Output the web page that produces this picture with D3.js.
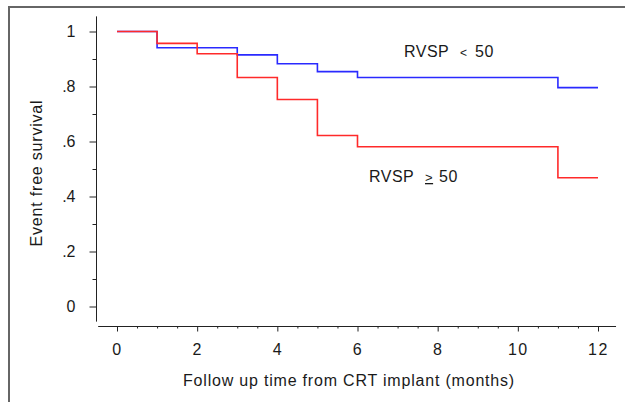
<!DOCTYPE html>
<html>
<head>
<meta charset="utf-8">
<script src="https://cdn.jsdelivr.net/npm/d3@7"></script>
<style>
	body { margin: 0; background: #fff; }
	text { font-family: "Liberation Sans", Arial, sans-serif; fill: #1a1a1a; }
</style>
</head>
<body>
<script>
// data
var lowTimes = [0, 1, 3, 4, 5, 6, 11, 12];
var lowSurvival = [1, 0.941, 0.915, 0.883, 0.854, 0.833, 0.796, 0.796];
var highTimes = [0, 1, 2, 3, 4, 5, 6, 11, 12];
var highSurvival = [1, 0.957, 0.919, 0.833, 0.753, 0.622, 0.581, 0.468, 0.468];

var xTicks = [0, 2, 4, 6, 8, 10, 12];
var yTicks = [0, 0.2, 0.4, 0.6, 0.8, 1];
var yTickLabels = ["0", ".2", ".4", ".6", ".8", "1"];

var width = 625, height = 402;

var svg = d3.select("body").append("svg")
	.attr("width", width)
	.attr("height", height);

// outer frame (left and top edges only show)
svg.append("path")
	.attr("d", "M9,402V7H625")
	.attr("fill", "none")
	.attr("stroke", "#666")
	.attr("stroke-width", 2);

var x = d3.scaleLinear().domain([0, 12]).range([117, 598]);
var y = d3.scaleLinear().domain([0, 1]).range([306.5, 31.5]);

// axis lines run a little past the data range
var xExtent = [-0.47, 12.45];
var yExtent = [-0.055, 1.055];

// x axis
var xAxisY = 326.5;
var gx = svg.append("g").attr("transform", "translate(0," + xAxisY + ")");
gx.call(d3.axisBottom(x).tickValues(d3.range(0, 12.01, 0.5)).tickSize(2).tickFormat(""));
gx.select(".domain").remove();
gx.selectAll(".tick line").attr("stroke", "#222");
gx.selectAll(".tick").filter(function(d) { return xTicks.indexOf(d) >= 0; })
	.select("line").attr("y2", 5);
gx.selectAll(".tick").filter(function(d) { return xTicks.indexOf(d) >= 0; })
	.select("text")
	.text(function(d) { return d; })
	.attr("y", 17)
	.attr("dy", "0.71em")
	.style("font-size", "16px")
	.style("letter-spacing", "1.5px")
	.style("font-family", "Liberation Sans, Arial, sans-serif")
	.attr("fill", "#1a1a1a");
gx.append("line")
	.attr("x1", x(xExtent[0])).attr("x2", x(xExtent[1]))
	.attr("stroke", "#222");

// y axis
var yAxisX = 96.5;
var gy = svg.append("g").attr("transform", "translate(" + yAxisX + ",0)");
gy.call(d3.axisLeft(y).tickValues(d3.range(0, 1.001, 0.1)).tickSize(4).tickFormat(""));
gy.select(".domain").remove();
gy.selectAll(".tick line").attr("stroke", "#222");
gy.selectAll(".tick").filter(function(d, i) { return i % 2 === 0; })
	.select("line").attr("x2", -7);
gy.selectAll(".tick").filter(function(d, i) { return i % 2 === 0; })
	.select("text")
	.text(function(d) { return yTickLabels[yTicks.indexOf(Math.round(d * 5) / 5)]; })
	.attr("x", -21)
	.style("font-size", "16px")
	.style("font-family", "Liberation Sans, Arial, sans-serif")
	.attr("fill", "#1a1a1a");
gy.append("line")
	.attr("y1", y(yExtent[0])).attr("y2", y(yExtent[1]))
	.attr("stroke", "#222");

// survival curves
var line = d3.line()
	.x(function(d) { return x(d[0]); })
	.y(function(d) { return y(d[1]); })
	.curve(d3.curveStepAfter);

svg.append("path")
	.datum(d3.zip(lowTimes, lowSurvival))
	.attr("d", line)
	.attr("fill", "none")
	.attr("stroke", "#2a2aff")
	.attr("stroke-width", 1.6);

svg.append("path")
	.datum(d3.zip(highTimes, highSurvival))
	.attr("d", line)
	.attr("fill", "none")
	.attr("stroke", "#ff2a2a")
	.attr("stroke-width", 1.6);

// group labels
var low = svg.append("text")
	.attr("x", 404).attr("y", 57)
	.style("font-size", "16px")
	.style("letter-spacing", "0.5px");
low.append("tspan").text("RVSP");
low.append("tspan").attr("x", 460).text("<").style("font-size", "12px");
low.append("tspan").attr("x", 475).text("50");

var high = svg.append("text")
	.attr("x", 369).attr("y", 182)
	.style("font-size", "16px")
	.style("letter-spacing", "0.5px");
high.append("tspan").text("RVSP");
high.append("tspan").attr("x", 425).text(">").style("text-decoration", "underline").style("font-size", "13px");
high.append("tspan").attr("x", 439).text("50");

// axis titles
svg.append("text")
	.attr("x", 349).attr("y", 386)
	.attr("text-anchor", "middle")
	.style("font-size", "16px")
	.style("letter-spacing", "0.8px")
	.text("Follow up time from CRT implant (months)");

svg.append("text")
	.attr("transform", "translate(42,173) rotate(-90)")
	.attr("text-anchor", "middle")
	.style("font-size", "16px")
	.style("letter-spacing", "0.8px")
	.text("Event free survival");
</script>
</body>
</html>
